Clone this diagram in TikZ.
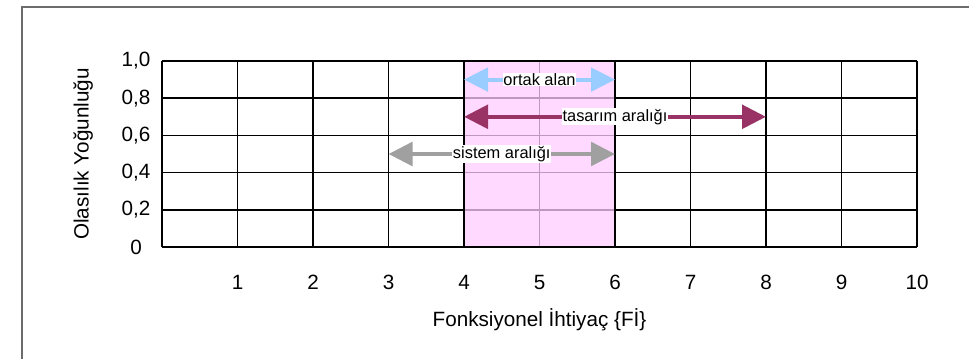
\documentclass[tikz,border=0pt]{standalone}
\usepackage{fontspec}
\setmainfont{Liberation Sans}
\usepackage{tikz}
\usetikzlibrary{arrows.meta,positioning}

\definecolor{ortakblue}{RGB}{153,204,255}
\definecolor{tasarimred}{RGB}{153,51,102}
\definecolor{sistemgray}{RGB}{160,160,160}
\definecolor{alanpink}{RGB}{255,204,255}

\tikzset{
	axislbl/.style={font=\fontsize{15.5}{18}\selectfont,inner sep=0pt},
	rangelbl/.style={font=\fontsize{12.3}{14}\selectfont,fill=white,inner sep=0.6pt},
	rangearrow/.style={line width=3.4pt,{Triangle[length=18pt,width=17.5pt]}-{Triangle[length=18pt,width=17.5pt]}}
}

\begin{document}
\begin{tikzpicture}
		\useasboundingbox (0,0) rectangle (726.75pt,268.5pt);
		\clip (0,0) rectangle (726.75pt,268.5pt);
		\draw[line width=1.1pt,gray!85!black] (16.5pt,-10pt) rectangle (740pt,263.25pt);
		\begin{scope}[shift={(121.5pt,83.25pt)},x=56.625pt,y=139.5pt]
			% grid
			\foreach \i in {0,...,10}
				\draw[line width=1.2pt] (\i,0) -- (\i,1);
			\foreach \j in {0,0.2,...,1.01}
				\draw[line width=1.2pt] (0,\j) -- (10,\j);
			\fill[alanpink,fill opacity=0.75] (4,0) rectangle (6,1);
			\draw[line width=1.2pt] (4,0) rectangle (6,1);
			% axes
			\foreach \j/\t in {0/0,0.2/{0,2},0.4/{0,4},0.6/{0,6},0.8/{0,8},1/{1,0}}
				\node[axislbl] (y\t) at (-0.344,\j) {\t};
			\foreach \i in {1,...,10}
				\node[axislbl] (x\i) at (\i,-0.191) {\i};
			\node[axislbl] (xtitle) at (5,-0.392) {Fonksiyonel İhtiyaç \{Fİ\}};
			\node[axislbl,rotate=90] (ytitle) at (-1.046,0.5) {Olasılık Yoğunluğu};
			% ranges
			\coordinate (o1) at (4,0.9);
			\coordinate (o2) at (6,0.9);
			\coordinate (t1) at (4,0.7);
			\coordinate (t2) at (8,0.7);
			\coordinate (s1) at (3,0.5);
			\coordinate (s2) at (6,0.5);
			\path
				(o1) edge[rangearrow,ortakblue,line width=3pt] node[rangelbl,text=black] {ortak alan} (o2)
				(t1) edge[rangearrow,tasarimred] node[rangelbl,text=black] {tasarım aralığı} (t2)
				(s1) edge[rangearrow,sistemgray] node[rangelbl,text=black] {sistem aralığı} (s2);
		\end{scope}
	\end{tikzpicture}
\end{document}
